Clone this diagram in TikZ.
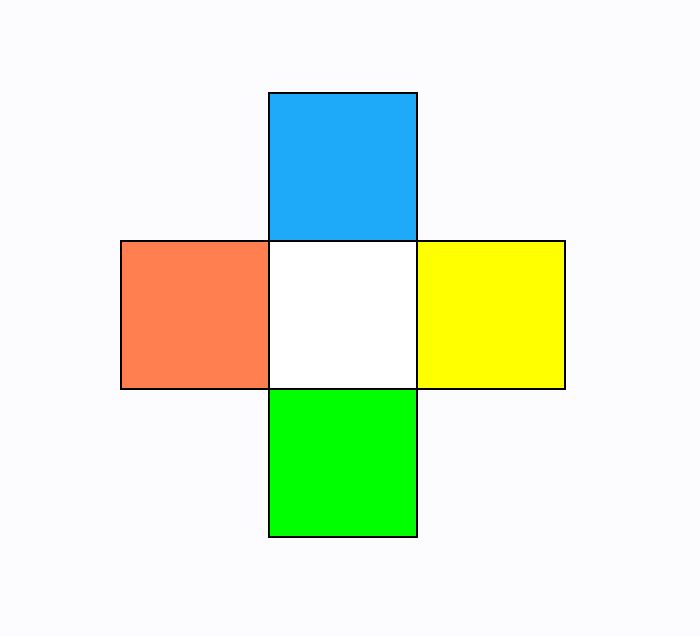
\documentclass[tikz,border=0pt]{standalone}
\begin{document}
\begin{tikzpicture}[x=1pt,y=-1pt,
  sq/.style={draw=black,line width=1.5pt,minimum size=148pt,inner sep=0pt,outer sep=0pt}]
\definecolor{bg}{HTML}{FCFCFE}
\definecolor{cblue}{HTML}{1EAAF8}
\definecolor{corange}{HTML}{FF7F50}
\definecolor{cyellow}{HTML}{FFFF00}
\definecolor{cgreen}{HTML}{00FF00}
\fill[bg] (0,0) rectangle (700,636);
\useasboundingbox (0,0) rectangle (700,636);
\node[sq,fill=white] (c) at (343,315) {};
\node[sq,fill=cblue,anchor=south] (t) at (c.north) {};
\node[sq,fill=corange,anchor=east] (l) at (c.west) {};
\node[sq,fill=cyellow,anchor=west] (r) at (c.east) {};
\node[sq,fill=cgreen,anchor=north] (b) at (c.south) {};
\end{tikzpicture}
\end{document}
